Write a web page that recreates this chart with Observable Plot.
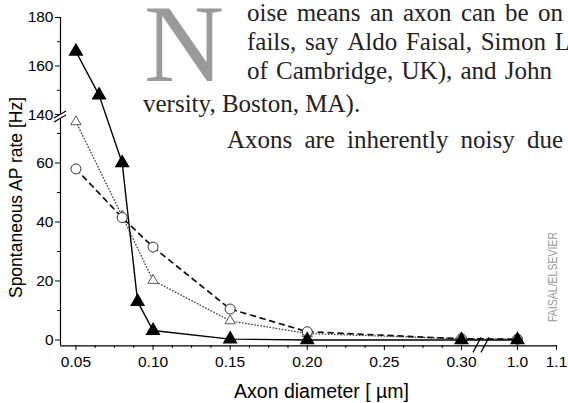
<!DOCTYPE html>
<html><head><meta charset="utf-8">
<script src="https://cdn.jsdelivr.net/npm/d3@7"></script>
<script src="https://cdn.jsdelivr.net/npm/@observablehq/plot@0.6"></script>
<style>
body{margin:0;background:#fff;}
#wrap{position:relative;width:568px;height:403px;overflow:hidden;background:#fff;}
#wrap svg{display:block;}
#overlay{position:absolute;left:0;top:0;pointer-events:none;}
</style></head><body><div id="wrap"></div>
<script>
// ---- data ----
const diameterA = [0.05, 0.065, 0.08, 0.09, 0.10, 0.15, 0.20, 0.30, 1.0];
const rateA     = [166, 148, 60, 13, 3.2, 0.3, 0, 0, 0];          // filled triangles, solid
const diameterB = [0.05, 0.08, 0.10, 0.15, 0.20, 0.30, 1.0];
const rateB     = [58, 41.5, 31.5, 10.5, 2.8, 0.4, 0.3];           // open circles, dashed
const diameterC = [0.05, 0.08, 0.10, 0.15, 0.20, 0.30, 1.0];
const rateC     = [137, 42, 20.2, 6.5, 2.2, 0.4, 0.3];             // open triangles, dotted

const xTicks      = [0.05, 0.10, 0.15, 0.20, 0.25, 0.30, 1.0, 1.1];
const xTickLabels = ["0.05", "0.10", "0.15", "0.20", "0.25", "0.30", "1.0", "1.1"];
const xMinorTicks = [0.0625, 0.075, 0.0875, 0.1125, 0.125, 0.1375, 0.1625, 0.175, 0.1875,
                     0.2125, 0.225, 0.2375, 0.2625, 0.275, 0.2875];
const yTicks      = [0, 20, 40, 60, 140, 160, 180];
const yMinorTicks = [10, 30, 50, 70, 150, 170];
const xTitle = "Axon diameter [ µm]";
const yTitle = "Spontaneous AP rate [Hz]";
const dropCap = "N";
const bodyLines = [
  "oise means an axon can be on",
  "fails, say Aldo Faisal, Simon L",
  "of Cambridge, UK), and John",
  "versity, Boston, MA).",
  "Axons are inherently noisy due"
];
const credit = "FAISAL/ELSEVIER";

// ---- tables ----
const A = diameterA.map((d, i) => ({d, r: rateA[i]}));
const B = diameterB.map((d, i) => ({d, r: rateB[i]}));
const C = diameterC.map((d, i) => ({d, r: rateC[i]}));

const plot = Plot.plot({
  width: 568, height: 403,
  marginLeft: 60, marginRight: 12, marginTop: 17, marginBottom: 58,
  style: {fontFamily: "'Liberation Sans', Arial, sans-serif", fontSize: "15.5px", color: "#000", background: "#fff", overflow: "visible"},
  x: {type: "linear", domain: [0.04, 0.30, 0.31, 0.955, 1.1], range: [60, 461, 476.4, 499.4, 556], label: null},
  y: {type: "linear", domain: [-2, 70, 134, 180], range: [345.4, 133, 128.6, 17], label: null},
  marks: [
    Plot.ruleY([-2], {stroke: "#000", strokeWidth: 1.2}),
    Plot.ruleX([0.04], {stroke: "#000", strokeWidth: 1.2}),
    Plot.axisX({ticks: xTicks, tickSize: 5, tickPadding: 5, tickFormat: d => xTickLabels[xTicks.indexOf(d)], label: null}),
    Plot.axisX({ticks: xMinorTicks, tickSize: 3, tickFormat: () => "", label: null}),
    Plot.axisY({ticks: yTicks, tickSize: 5, tickPadding: 2, label: null}),
    Plot.axisY({ticks: yMinorTicks, tickSize: 3, tickFormat: () => "", label: null}),
    Plot.line(C, {x: "d", y: "r", stroke: "#444", strokeWidth: 1.4, strokeDasharray: "0.5,2.6", strokeLinecap: "round"}),
    Plot.line(B, {x: "d", y: "r", stroke: "#111", strokeWidth: 1.7, strokeDasharray: "5,5"}),
    Plot.line(A, {x: "d", y: "r", stroke: "#000", strokeWidth: 1.4}),
    Plot.dot(C, {x: "d", y: "r", symbol: "triangle", r: 3.8, fill: "white", stroke: "#555", strokeWidth: 1}),
    Plot.dot(B, {x: "d", y: "r", symbol: "circle", r: 5, fill: "white", stroke: "#333", strokeWidth: 1}),
    Plot.dot(A, {x: "d", y: "r", symbol: "triangle", r: 4.6, fill: "#000", stroke: "#000"}),
    Plot.text([xTitle], {frameAnchor: "bottom", text: d => d, textAnchor: "middle", lineAnchor: "middle", dx: 13, dy: 46, fontSize: 19.5}),
    Plot.text([yTitle], {frameAnchor: "left", text: d => d, textAnchor: "middle", lineAnchor: "middle", rotate: -90, dx: -44, dy: 16, fontSize: 17.5})
  ]
});
const wrap = document.getElementById("wrap");
wrap.appendChild(plot);

// ---- overlay: axis breaks, drop cap, body text, credit ----
const xs = plot.scale("x"), ys = plot.scale("y");
const NS = "http://www.w3.org/2000/svg";
const ov = document.createElementNS(NS, "svg");
ov.setAttribute("id", "overlay");
ov.setAttribute("width", 568); ov.setAttribute("height", 403);
wrap.appendChild(ov);
function el(name, attrs, parent = ov) {
  const e = document.createElementNS(NS, name);
  for (const k in attrs) e.setAttribute(k, attrs[k]);
  parent.appendChild(e); return e;
}
// y break
const yb = ys.apply(140) + 2, xa = xs.apply(0.04);
el("polygon", {points: `${xa-6},${yb+2} ${xa+6},${yb-5} ${xa+6},${yb-1} ${xa-6},${yb+6}`, fill: "#fff"});
el("line", {x1: xa-6, y1: yb+2, x2: xa+6, y2: yb-5, stroke: "#000", "stroke-width": 1.2});
el("line", {x1: xa-6, y1: yb+6, x2: xa+6, y2: yb-1, stroke: "#000", "stroke-width": 1.2});
// x break
const xb = (xs.apply(0.30) + xs.apply(1.0)) / 2 - 8, ya = ys.apply(-2);
el("line", {x1: xb-8, y1: ya+7, x2: xb, y2: ya-8, stroke: "#000", "stroke-width": 1.2});
el("line", {x1: xb, y1: ya+7, x2: xb+8, y2: ya-8, stroke: "#000", "stroke-width": 1.2});

// drop cap
el("text", {x: 144, y: 81, "font-family": "'Liberation Serif', 'Times New Roman', serif", "font-size": 111, fill: "#9a9a9a"}).textContent = dropCap;

// justified body lines
const lineLayout = [
  {x0: 247, x1: 563, y: 21},
  {x0: 247, x1: 570, y: 50},
  {x0: 247, x1: 552, y: 79},
  {x0: 143, x1: null, y: 112},
  {x0: 227, x1: 563, y: 148}
];
const fs = 25;
bodyLines.forEach((line, li) => {
  const L = lineLayout[li];
  const words = line.split(" ");
  const t = el("text", {y: L.y, "font-family": "'Liberation Serif', 'Times New Roman', serif", "font-size": fs, fill: "#222"});
  const spans = words.map(w => { const s = el("tspan", {}, t); s.textContent = w; return s; });
  const widths = spans.map(s => s.getComputedTextLength());
  const total = widths.reduce((a, b) => a + b, 0);
  const gap = L.x1 == null ? fs * 0.25 : (L.x1 - L.x0 - total) / (words.length - 1);
  let x = L.x0;
  spans.forEach((s, i) => { s.setAttribute("x", x); x += widths[i] + gap; });
});

// credit
el("text", {transform: "translate(557,322) rotate(-90)", "font-family": "'Liberation Sans', Arial, sans-serif", "font-size": 12, fill: "#999", textLength: 90, lengthAdjust: "spacingAndGlyphs"}).textContent = credit;
</script></body></html>
